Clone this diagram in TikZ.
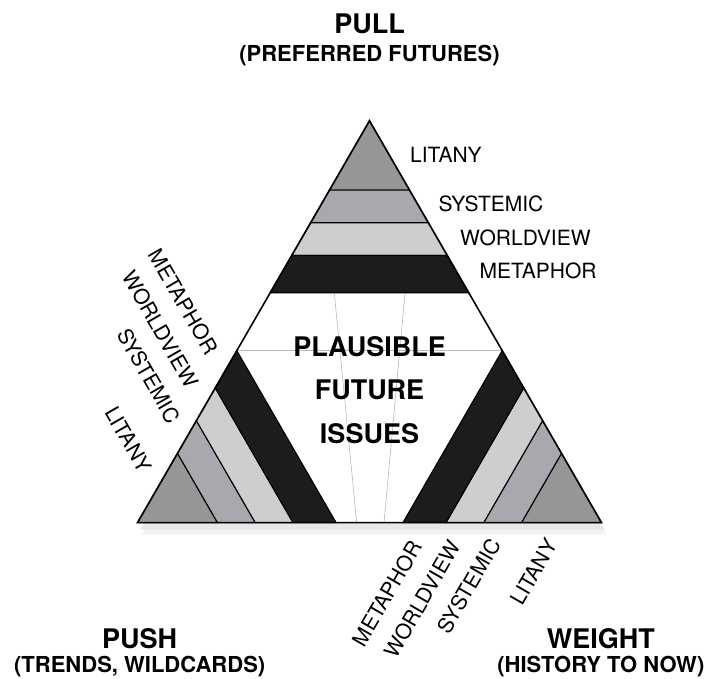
\documentclass[tikz,border=0pt]{standalone}
\usepackage{fontspec}
\setmainfont{TeX Gyre Heros}
\usepackage{xcolor}

\definecolor{litanygray}{RGB}{150,150,150}
\definecolor{systemicgray}{RGB}{168,168,174}
\definecolor{worldviewgray}{RGB}{206,206,206}
\definecolor{metaphorgray}{RGB}{28,28,28}

\tikzset{
  band/.style={draw=black, line width=1.1pt},
  guide/.style={draw=gray!55, line width=0.6pt},
  layer/.style={inner sep=0pt, font=\fontsize{21}{25}\selectfont},
  corner/.style={inner sep=0pt, font=\bfseries\fontsize{27}{32}\selectfont},
  cornersub/.style={inner sep=0pt, font=\bfseries\fontsize{22}{26}\selectfont},
}

\begin{document}
\begin{tikzpicture}[x=1pt, y=1pt]
\useasboundingbox (0,0) rectangle (706,679);
\def\R{267.9}
%
\begin{scope}[shift={(369.5,290.3)}]
% shadow and body
\fill[gray!10, shift={(5,-12)}] (90:\R) -- (210:\R) -- (330:\R) -- cycle;
\fill[gray!18, shift={(3,-7)}] (90:\R) -- (210:\R) -- (330:\R) -- cycle;
\fill[white] (90:\R) -- (210:\R) -- (330:\R) -- cycle;
%
\draw[guide] (-132.7,38) -- (132.7,38);
\draw[guide] (-35.2,95.9) -- (-12.8,-133.9);
\draw[guide] (35.5,95.9) -- (14.5,-133.9);
%
\foreach \ang/\flip/\anch in {0/0/west, 120/180/east, 240/180/east}{
  \begin{scope}[rotate=\ang]
    \foreach \din/\dout/\col in {0/69.3/litanygray, 69.3/102/systemicgray,
                                 102/134.7/worldviewgray, 134.7/172/metaphorgray}
      \filldraw[band, fill=\col] ({-\din/sqrt(3)},{\R-\din}) -- ({-\dout/sqrt(3)},{\R-\dout})
        -- ({\dout/sqrt(3)},{\R-\dout}) -- ({\din/sqrt(3)},{\R-\din}) -- cycle;
    \foreach \x/\y/\txt [count=\i] in {40.5/234/LITANY, 68.8/184.7/SYSTEMIC,
                                       90.5/151.2/WORLDVIEW, 109.8/117.9/METAPHOR}
      \node[layer, transform shape, rotate=\flip, anchor=\anch] (lab\ang-\i) at (\x,\y) {\txt};
  \end{scope}
}
%
\draw[line width=1.6pt] (90:\R) -- (210:\R) -- (330:\R) -- cycle;
\node[corner, align=center, font=\bfseries\fontsize{27}{43.5}\selectfont] (issues) at (0,-1) {PLAUSIBLE\\FUTURE\\ISSUES};
\end{scope}
%
\node[corner, anchor=base] (pull) at (369.5,645.7) {PULL};
\node[cornersub, anchor=base] (pullsub) at (369.5,617.5) {(PREFERRED FUTURES)};
\node[corner, anchor=base] (push) at (139.7,30) {PUSH};
\node[cornersub, anchor=base] (pushsub) at (139.7,6) {(TRENDS, WILDCARDS)};
\node[corner, anchor=base] (weight) at (600.8,30) {WEIGHT};
\node[cornersub, anchor=base] (weightsub) at (600.8,6) {(HISTORY TO NOW)};
\end{tikzpicture}
\end{document}
